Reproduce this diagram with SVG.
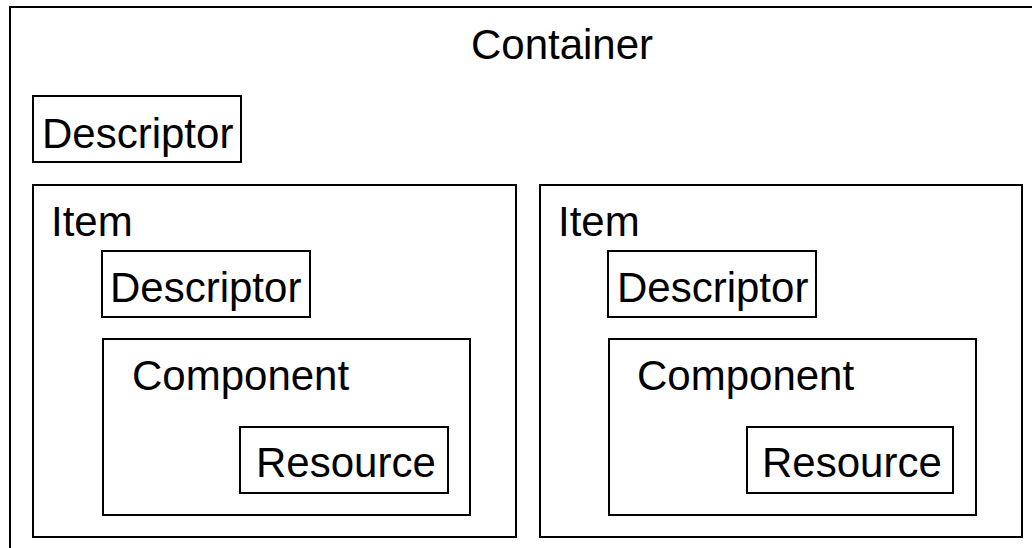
<svg xmlns="http://www.w3.org/2000/svg" width="1032" height="548" viewBox="0 0 1032 548">
  <style>
    rect { fill: none; stroke: #000; stroke-width: 2; }
    text { font-family: "Liberation Sans", Arial, sans-serif; font-size: 42px; fill: #000; }
  </style>
  <rect x="0" y="0" width="1032" height="548" style="fill:#fff;stroke:none"/>
  <g id="container">
    <rect x="10" y="7" width="1032" height="560"/>
    <text x="562" y="59" text-anchor="middle">Container</text>
  </g>
  <g id="descriptor-top">
    <rect x="33" y="96" width="208" height="66"/>
    <text x="42" y="148">Descriptor</text>
  </g>
  <g id="item-1">
    <rect x="33" y="185" width="483" height="352"/>
    <text x="51" y="236">Item</text>
  </g>
  <g id="descriptor-1">
    <rect x="102" y="251" width="208" height="66"/>
    <text x="110" y="302">Descriptor</text>
  </g>
  <g id="component-1">
    <rect x="103" y="339" width="367" height="176"/>
    <text x="132" y="390">Component</text>
  </g>
  <g id="resource-1">
    <rect x="240" y="427" width="208" height="66"/>
    <text x="256" y="477">Resource</text>
  </g>
  <g id="item-2">
    <rect x="540" y="185" width="482" height="352"/>
    <text x="558" y="236">Item</text>
  </g>
  <g id="descriptor-2">
    <rect x="608" y="251" width="208" height="66"/>
    <text x="617" y="302">Descriptor</text>
  </g>
  <g id="component-2">
    <rect x="609" y="339" width="367" height="176"/>
    <text x="637" y="390">Component</text>
  </g>
  <g id="resource-2">
    <rect x="747" y="427" width="206" height="66"/>
    <text x="762" y="477">Resource</text>
  </g>
  <g id="connectors"/>
</svg>
